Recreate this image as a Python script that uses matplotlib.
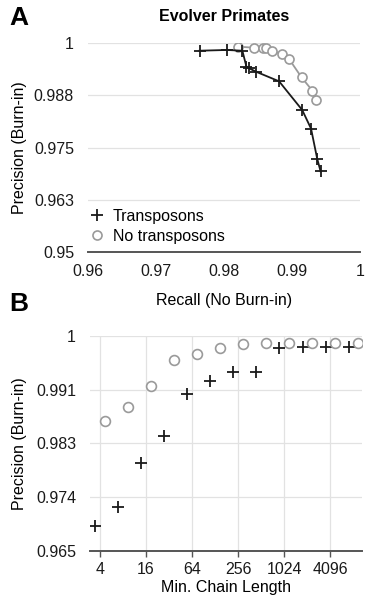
import numpy as np
import matplotlib.pyplot as plt
from matplotlib.lines import Line2D

plt.rcParams['font.family'] = ['Liberation Sans', 'DejaVu Sans']

# 面板 A：召回率 / 精确率
recall_tp = [0.9764, 0.9804, 0.9827, 0.9833, 0.9837, 0.9847, 0.9881, 0.9915, 0.9928, 0.9937, 0.9942]
prec_tp = [0.99822, 0.9984, 0.99822, 0.99439, 0.9940, 0.99319, 0.99088, 0.9840, 0.97953, 0.97234, 0.96929]
recall_notp = [0.9821, 0.9844, 0.9857, 0.9862, 0.9871, 0.9886, 0.9896, 0.9914, 0.9930, 0.9936]
prec_notp = [0.9992, 0.99894, 0.99894, 0.9988, 0.99822, 0.99736, 0.99616, 0.99184, 0.98863, 0.9864]

# 面板 B：最小链长度
chain_len = [4, 8, 16, 32, 64, 128, 256, 512, 1024, 2048, 4096, 8192]
prec_len_tp = [0.9691, 0.9721, 0.97925, 0.9837, 0.99055, 0.99271, 0.99418, 0.99418,
               0.998, 0.99826, 0.99826, 0.99826]
prec_len_notp = [0.98614, 0.98838, 0.99185, 0.99609, 0.99707, 0.998, 0.9987, 0.9989,
                 0.9989, 0.9989, 0.9989, 0.9989]

a_yticks = [0.95, 0.9625, 0.975, 0.9875, 1.0]
a_ylabels = ['0.95', '0.963', '0.975', '0.988', '1']
a_xticks = [0.96, 0.97, 0.98, 0.99, 1.0]
a_xlabels = ['0.96', '0.97', '0.98', '0.99', '1']
b_yticks = [0.965, 0.97375, 0.9825, 0.99125, 1.0]
b_ylabels = ['0.965', '0.974', '0.983', '0.991', '1']
b_xticks = [4, 16, 64, 256, 1024, 4096]

BLACK = '#1a1a1a'
GREY = '#9a9a9a'
GRID = '#e2e2e2'
AXIS = '#555555'
FS = 11.5

W, H = 365, 601
fig = plt.figure(figsize=(W / 100, H / 100), dpi=100)
ax_a = fig.add_axes([88 / W, 1 - 251.7 / H, 272 / W, 208.4 / H])
ax_b = fig.add_axes([90 / W, 1 - 550.7 / H, 272 / W, 214.7 / H])


def style_axes(ax):
    for side in ['top', 'right', 'left']:
        ax.spines[side].set_visible(False)
    ax.spines['bottom'].set_color(AXIS)
    ax.spines['bottom'].set_linewidth(1.4)
    ax.grid(True, axis='y', color=GRID, linewidth=0.9)
    ax.set_axisbelow(True)
    ax.tick_params(axis='y', length=0, pad=10, labelsize=FS, colors=BLACK)


# ---- A ----
style_axes(ax_a)
ax_a.plot(recall_notp, prec_notp, color=GREY, linewidth=1.3, marker='o', markersize=6.5,
          markerfacecolor='white', markeredgecolor=GREY, markeredgewidth=1.2)
ax_a.plot(recall_tp, prec_tp, color=BLACK, linewidth=1.3, marker='+', markersize=9,
          markeredgewidth=1.3)
ax_a.set_xlim(0.96, 1.0)
ax_a.set_ylim(0.95, 1.0)
ax_a.set_yticks(a_yticks, a_ylabels)
ax_a.set_xticks(a_xticks, a_xlabels)
ax_a.tick_params(axis='x', length=0, pad=9, labelsize=FS, colors=BLACK)
ax_a.set_xlabel('Recall (No Burn-in)', fontsize=FS, labelpad=10)
ax_a.set_ylabel('Precision (Burn-in)', fontsize=FS)
ax_a.yaxis.set_label_coords(-0.225, 0.5)
ax_a.set_title('Evolver Primates', fontsize=11.5, fontweight='bold', pad=16)

handles = [Line2D([], [], linestyle='none', marker='+', markersize=9, markeredgewidth=1.3, color=BLACK),
           Line2D([], [], linestyle='none', marker='o', markersize=6.5, markerfacecolor='white',
                  markeredgecolor=GREY, markeredgewidth=1.2)]
ax_a.legend(handles, ['Transposons', 'No transposons'], loc='lower left', bbox_to_anchor=(-0.05, -0.03),
            frameon=False, fontsize=FS, handlelength=1.0, handletextpad=0.5, labelspacing=0.3)

# ---- B ----
style_axes(ax_b)
ax_b.grid(True, axis='x', color=GRID, linewidth=0.9)
dodge = 2 ** 0.2
ax_b.scatter(np.array(chain_len) / dodge, prec_len_tp, marker='+', s=80, color=BLACK, linewidths=1.3)
ax_b.scatter(np.array(chain_len) * dodge, prec_len_notp, marker='o', s=50, facecolors='white',
             edgecolors=GREY, linewidths=1.2)
ax_b.set_xscale('log', base=2)
ax_b.set_xlim(2.96, 10700)
ax_b.set_ylim(0.965, 1.0)
ax_b.set_yticks(b_yticks, b_ylabels)
ax_b.set_xticks(b_xticks, [str(v) for v in b_xticks])
ax_b.minorticks_off()
ax_b.tick_params(axis='x', length=4, width=1, color=AXIS, pad=4, labelsize=FS, colors=BLACK)
ax_b.set_xlabel('Min. Chain Length', fontsize=FS, labelpad=2)
ax_b.set_ylabel('Precision (Burn-in)', fontsize=FS)
ax_b.yaxis.set_label_coords(-0.232, 0.5)

# 面板字母
fig.text(19 / W, 1 - 18 / H, 'A', fontsize=19, fontweight='bold', ha='center', va='center')
fig.text(19 / W, 1 - 304 / H, 'B', fontsize=19, fontweight='bold', ha='center', va='center')

fig.savefig('out.png', dpi=100)
